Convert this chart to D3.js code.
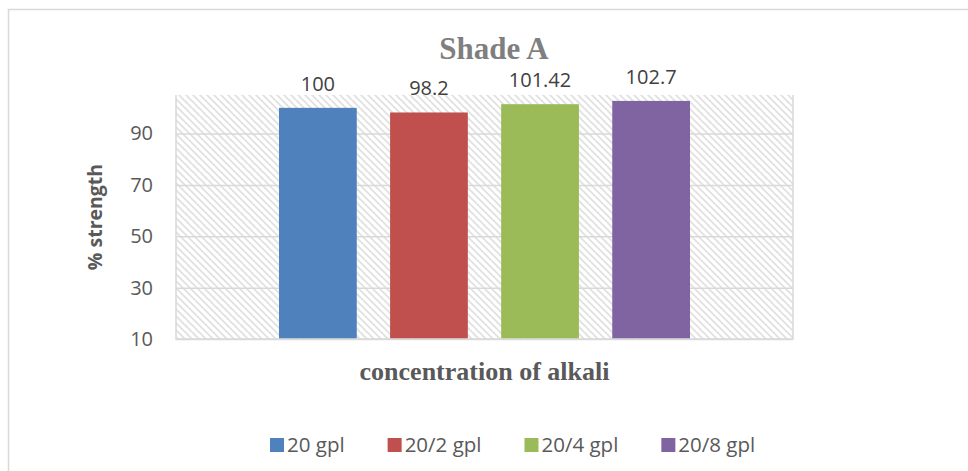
<!DOCTYPE html>
<html>
<head>
<meta charset="utf-8">
<script src="https://cdn.jsdelivr.net/npm/d3@7/dist/d3.min.js"></script>
<style>
  html, body { margin: 0; padding: 0; background: #ffffff; }
  svg { display: block; }
</style>
</head>
<body>
<script>
// Strength of Shade A at each alkali concentration
const seriesNames = ["20 gpl", "20/2 gpl", "20/4 gpl", "20/8 gpl"];
const strengthValues = [100, 98.2, 101.42, 102.7];
const valueLabels = ["100", "98.2", "101.42", "102.7"];
const seriesColors = ["#4f81bd", "#c0504d", "#9bbb59", "#8064a2"];
const yTicks = [10, 30, 50, 70, 90];
const chartTitle = "Shade A";
const xTitle = "concentration of alkali";
const yTitle = "% strength";

const W = 968, H = 471;
const plot = { left: 176, right: 793, top: 95, bottom: 339 };
const groupInset = 103;

const svg = d3.select("body").append("svg")
  .attr("width", W).attr("height", H);

// hatched plot background
const defs = svg.append("defs");
const pat = defs.append("pattern")
  .attr("id", "hatch")
  .attr("patternUnits", "userSpaceOnUse")
  .attr("width", 7).attr("height", 7);
pat.append("rect").attr("width", 7).attr("height", 7).attr("fill", "#ffffff");
pat.append("path")
  .attr("d", "M-1,-1 L8,8 M-1,6 L1,8 M6,-1 L8,1")
  .attr("stroke", "#e0e0e0").attr("stroke-width", 1.6);

// outer chart frame
svg.append("rect")
  .attr("x", 8.5).attr("y", 9.5)
  .attr("width", W + 20).attr("height", H + 20)
  .attr("fill", "#ffffff")
  .attr("stroke", "#d9d9d9").attr("stroke-width", 1.5);

const y = d3.scaleLinear().domain([10, 105]).range([plot.bottom, plot.top]);
const x = d3.scaleBand()
  .domain(seriesNames)
  .range([plot.left + groupInset, plot.right - groupInset])
  .paddingInner(0.3).paddingOuter(0);

svg.append("rect")
  .attr("x", plot.left).attr("y", plot.top)
  .attr("width", plot.right - plot.left).attr("height", plot.bottom - plot.top)
  .attr("fill", "url(#hatch)");

// gridlines
const yAxis = d3.axisLeft(y).tickValues(yTicks)
  .tickSize(-(plot.right - plot.left)).tickPadding(23);
const gy = svg.append("g")
  .attr("transform", `translate(${plot.left},0)`)
  .call(yAxis);
gy.select(".domain").remove();
gy.selectAll(".tick line")
  .attr("stroke", "#d9d9d9").attr("stroke-width", 1.5);
gy.selectAll(".tick text")
  .attr("font-family", "'Open Sans', sans-serif")
  .attr("font-size", 20)
  .attr("fill", "#595959");

// plot border: left, right, bottom
svg.append("path")
  .attr("d", `M${plot.left},${plot.top} V${plot.bottom} H${plot.right} V${plot.top}`)
  .attr("fill", "none")
  .attr("stroke", "#d9d9d9").attr("stroke-width", 1.5);

const data = seriesNames.map((s, i) => ({
  name: s, value: strengthValues[i], label: valueLabels[i], color: seriesColors[i]
}));

// bars
svg.append("g").selectAll("rect")
  .data(data).join("rect")
  .attr("x", d => x(d.name))
  .attr("y", d => y(d.value))
  .attr("width", x.bandwidth())
  .attr("height", d => y(10) - y(d.value) - 0.75)
  .attr("fill", d => d.color);

// value labels
svg.append("g").selectAll("text")
  .data(data).join("text")
  .attr("x", d => x(d.name) + x.bandwidth() / 2)
  .attr("y", d => y(d.value) - 17)
  .attr("text-anchor", "middle")
  .attr("font-family", "'Open Sans', sans-serif")
  .attr("font-size", 20)
  .attr("fill", "#404040")
  .text(d => d.label);

// title
svg.append("text")
  .attr("x", 494)
  .attr("y", 59)
  .attr("text-anchor", "middle")
  .attr("font-family", "'Liberation Serif', 'Times New Roman', serif")
  .attr("font-weight", "bold")
  .attr("font-size", 31)
  .attr("fill", "#7f7f7f")
  .text(chartTitle);

// axis titles
svg.append("text")
  .attr("x", (plot.left + plot.right) / 2)
  .attr("y", 380)
  .attr("text-anchor", "middle")
  .attr("font-family", "'Liberation Serif', 'Times New Roman', serif")
  .attr("font-weight", "bold")
  .attr("font-size", 26)
  .attr("fill", "#595959")
  .text(xTitle);

svg.append("text")
  .attr("transform", `translate(102,${(plot.top + plot.bottom) / 2}) rotate(-90)`)
  .attr("text-anchor", "middle")
  .attr("font-family", "'Open Sans', sans-serif")
  .attr("font-weight", "bold")
  .attr("font-size", 19.5)
  .attr("fill", "#595959")
  .text(yTitle);

// legend
const legend = svg.append("g");
let lx = 270;
data.forEach(d => {
  const item = legend.append("g").attr("transform", `translate(${lx},0)`);
  item.append("rect")
    .attr("x", 0).attr("y", 438)
    .attr("width", 14).attr("height", 14)
    .attr("fill", d.color);
  const t = item.append("text")
    .attr("x", 17).attr("y", 452)
    .attr("font-family", "'Open Sans', sans-serif")
    .attr("font-size", 20.5)
    .attr("fill", "#595959")
    .text(d.name);
  lx += 17 + t.node().getComputedTextLength() + 43;
});
</script>
</body>
</html>
